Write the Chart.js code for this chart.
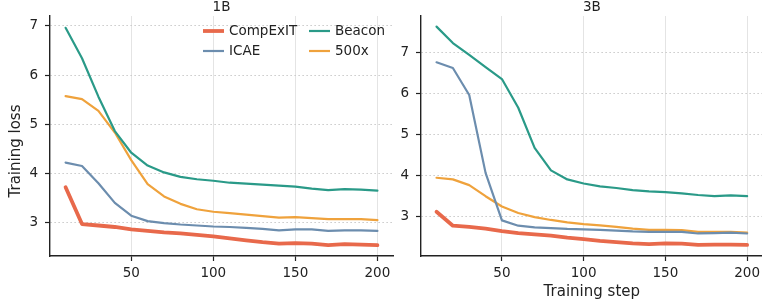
<!DOCTYPE html>
<html>
<head>
<meta charset="utf-8">
<script src="https://cdn.jsdelivr.net/npm/chart.js@4.4.1/dist/chart.umd.min.js"></script>
<style>
  html, body { margin: 0; padding: 0; background: #fff; overflow: hidden; width: 762px; height: 304px; }
  .wrap { position: absolute; top: 0; height: 304px; }
  canvas { display: block; }
</style>
</head>
<body>
<div class="wrap" style="left:0;width:400px"><canvas id="c1" width="400" height="304"></canvas></div>
<div class="wrap" style="left:400px;width:364px"><canvas id="c2" width="364" height="304"></canvas></div>
<script>
// ---- data ----
const steps = [10,20,30,40,50,60,70,80,90,100,110,120,130,140,150,160,170,180,190,200];
const seriesNames = ['CompExIT', 'Beacon', 'ICAE', '500x'];
const panelTitles = ['1B', '3B'];

const loss1B_CompExIT = [3.72,2.97,2.94,2.91,2.86,2.83,2.80,2.78,2.75,2.72,2.68,2.64,2.60,2.57,2.58,2.57,2.54,2.56,2.55,2.54];
const loss1B_Beacon   = [6.96,6.34,5.56,4.86,4.42,4.16,4.02,3.93,3.88,3.85,3.81,3.79,3.77,3.75,3.73,3.69,3.66,3.68,3.67,3.65];
const loss1B_ICAE     = [4.22,4.15,3.80,3.40,3.14,3.03,2.99,2.96,2.94,2.92,2.91,2.89,2.87,2.84,2.86,2.86,2.83,2.84,2.84,2.83];
const loss1B_500x     = [5.57,5.51,5.27,4.83,4.27,3.78,3.53,3.38,3.27,3.22,3.19,3.16,3.13,3.10,3.11,3.09,3.07,3.07,3.07,3.05];

const loss3B_CompExIT = [3.11,2.77,2.74,2.70,2.64,2.59,2.56,2.53,2.48,2.44,2.40,2.37,2.34,2.32,2.34,2.33,2.30,2.31,2.31,2.30];
const loss3B_Beacon   = [7.63,7.23,6.94,6.64,6.35,5.65,4.67,4.12,3.90,3.80,3.73,3.69,3.64,3.61,3.59,3.56,3.52,3.49,3.51,3.49];
const loss3B_ICAE     = [6.76,6.62,5.96,4.06,2.90,2.77,2.73,2.71,2.69,2.68,2.67,2.65,2.63,2.62,2.62,2.62,2.58,2.59,2.60,2.58];
const loss3B_500x     = [3.94,3.90,3.76,3.49,3.24,3.08,2.98,2.91,2.85,2.81,2.78,2.74,2.70,2.67,2.67,2.66,2.62,2.62,2.62,2.60];

const xTicks = [50,100,150,200];
const yTicks = [3,4,5,6,7];

// ---- style ----
const colors = { CompExIT: '#E8694B', Beacon: '#2A9A88', ICAE: '#6C8DAE', '500x': '#EFA23C' };
const widths = { CompExIT: 3.8, Beacon: 2.2, ICAE: 2.2, '500x': 2.2 };
const FONT = "'DejaVu Sans', sans-serif";
const INK = '#222';
const FS = 13.5;

Chart.defaults.font.family = FONT;
Chart.defaults.font.size = FS;
Chart.defaults.color = INK;

function makeDatasets(vals) {
  return seriesNames.map((name, i) => ({
    label: name,
    data: steps.map((s, j) => ({ x: s, y: vals[i][j] })),
    borderColor: colors[name],
    backgroundColor: colors[name],
    borderWidth: widths[name],
    pointRadius: 0,
    tension: 0,
    borderJoinStyle: 'round',
    borderCapStyle: 'round',
    fill: false,
    order: name === 'CompExIT' ? 0 : 1
  }));
}

const panelTitlePlugin = {
  id: 'panelTitle',
  afterDraw(chart, args, opts) {
    const ctx = chart.ctx, a = chart.chartArea;
    ctx.save();
    ctx.font = `${FS}px ${FONT}`;
    ctx.fillStyle = INK;
    ctx.textAlign = 'center';
    ctx.textBaseline = 'middle';
    ctx.fillText(opts.text, (a.left + a.right) / 2, 7);
    if (opts.ylabel) {
      ctx.translate(16, 151);
      ctx.rotate(-Math.PI / 2);
      ctx.font = `15px ${FONT}`;
      ctx.fillText(opts.ylabel, 0, 0);
    }
    ctx.restore();
  }
};

const legendPlugin = {
  id: 'customLegend',
  afterDraw(chart, args, opts) {
    if (!opts.show) return;
    const ctx = chart.ctx;
    const ds = chart.data.datasets;
    // layout: column 1: CompExIT, ICAE ; column 2: Beacon, 500x
    const slots = { CompExIT: [203, 31], ICAE: [203, 51], Beacon: [309, 31], '500x': [309, 51] };
    ctx.save();
    ds.forEach(d => {
      const [x, y] = slots[d.label];
      ctx.strokeStyle = d.borderColor;
      ctx.lineWidth = d.borderWidth;
      ctx.lineCap = 'butt';
      ctx.beginPath();
      ctx.moveTo(x, y);
      ctx.lineTo(x + 21, y);
      ctx.stroke();
      ctx.fillStyle = INK;
      ctx.font = `${FS}px ${FONT}`;
      ctx.textAlign = 'left';
      ctx.textBaseline = 'middle';
      ctx.fillText(d.label, x + 26, y + 0.5);
    });
    ctx.restore();
  }
};

function makeChart(id, vals, title, yMin, yMax, yWidth, padRight, showLegend, ylabel, xlabel) {
  return new Chart(document.getElementById(id), {
    type: 'line',
    data: { datasets: makeDatasets(vals) },
    plugins: [panelTitlePlugin, legendPlugin],
    options: {
      responsive: false,
      animation: false,
      devicePixelRatio: 1,
      layout: { padding: { left: 0, right: padRight, top: 16, bottom: 0 } },
      plugins: {
        legend: { display: false },
        tooltip: { enabled: false },
        panelTitle: { text: title, ylabel: ylabel },
        customLegend: { show: showLegend }
      },
      scales: {
        x: {
          type: 'linear',
          min: 0.5, max: 209.5,
          afterBuildTicks: s => { s.ticks = xTicks.map(v => ({ value: v })); },
          afterFit: s => { s.height = 48; },
          ticks: { padding: 4, font: { size: FS }, color: INK, maxRotation: 0 },
          grid: { color: '#e4e4e4', lineWidth: 1, drawTicks: true, tickLength: 5, tickColor: INK, tickWidth: 1.2, tickBorderDash: [] },
          border: { display: true, color: INK, width: 1.4, dash: [] },
          title: xlabel ? { display: true, text: xlabel, font: { size: 15 }, color: INK, padding: { top: 0, bottom: 3 } } : { display: false }
        },
        y: {
          type: 'linear',
          min: yMin, max: yMax,
          afterBuildTicks: s => { s.ticks = yTicks.map(v => ({ value: v })); },
          afterFit: s => { s.width = yWidth; },
          ticks: { padding: 7, font: { size: FS }, color: INK },
          grid: { color: '#c9c9c9', lineWidth: 1, drawTicks: true, tickLength: 5, tickColor: INK, tickWidth: 1.2, tickBorderDash: [] },
          border: { display: true, color: INK, width: 1.4, dash: [1.5, 2.5] }
        }
      }
    }
  });
}

makeChart('c1', [loss1B_CompExIT, loss1B_Beacon, loss1B_ICAE, loss1B_500x], panelTitles[0], 2.32, 7.2, 50, 7, true, 'Training loss', null);
makeChart('c2', [loss3B_CompExIT, loss3B_Beacon, loss3B_ICAE, loss3B_500x], panelTitles[1], 2.03, 7.89, 21, 0, false, null, 'Training step');
</script>
</body>
</html>
